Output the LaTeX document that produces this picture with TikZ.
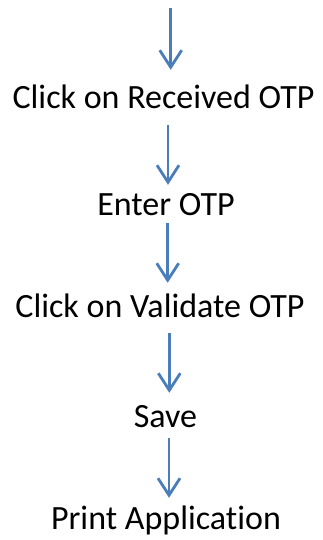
\documentclass[tikz,border=0pt]{standalone}
\usepackage{fontspec}
\setmainfont{Carlito}[Ligatures={NoCommon,NoContextual}]
\usetikzlibrary{arrows.meta}
\definecolor{arrblue}{HTML}{4A7EBB}
\tikzset{
  lbl/.style={inner sep=0pt, text height=22pt, text depth=6pt, font=\fontsize{34}{40}\selectfont, anchor=base},
  arr/.style={draw=arrblue, line width=2.8pt, -{Straight Barb[length=17pt,width=22pt,line width=2.8pt]}}
}
\begin{document}
\begin{tikzpicture}[x=1pt,y=1pt]
\useasboundingbox (0,0) rectangle (322,-540);
\node[lbl] (n1) at (163.5,-109) {Click on Received OTP};
\node[lbl] (n2) at (166,-215) {Enter OTP};
\node[lbl] (n3) at (160,-317) {Click on Validate OTP};
\node[lbl] (n4) at (165.5,-427) {Save};
\node[lbl] (n5) at (166,-529) {Print Application};
\coordinate (s0) at (170.7,-8);
\coordinate (x2) at (168,0);
\coordinate (x3) at (167.7,0);
\coordinate (x4) at (169.3,0);
\coordinate (x5) at (169,0);
\draw[arr, shorten >=17pt] (s0) -- (s0 |- n1.north);
\draw[arr, shorten <=10pt, shorten >=8pt] (n1.south -| x2) -- (n2.north -| x2);
\draw[arr, shorten <=2pt, shorten >=12pt] (n2.south -| x3) -- (n3.north -| x3);
\draw[arr, shorten <=10pt, shorten >=12pt] (n3.south -| x4) -- (n4.north -| x4);
\draw[arr, shorten <=5pt, shorten >=9pt] (n4.south -| x5) -- (n5.north -| x5);
\end{tikzpicture}
\end{document}
